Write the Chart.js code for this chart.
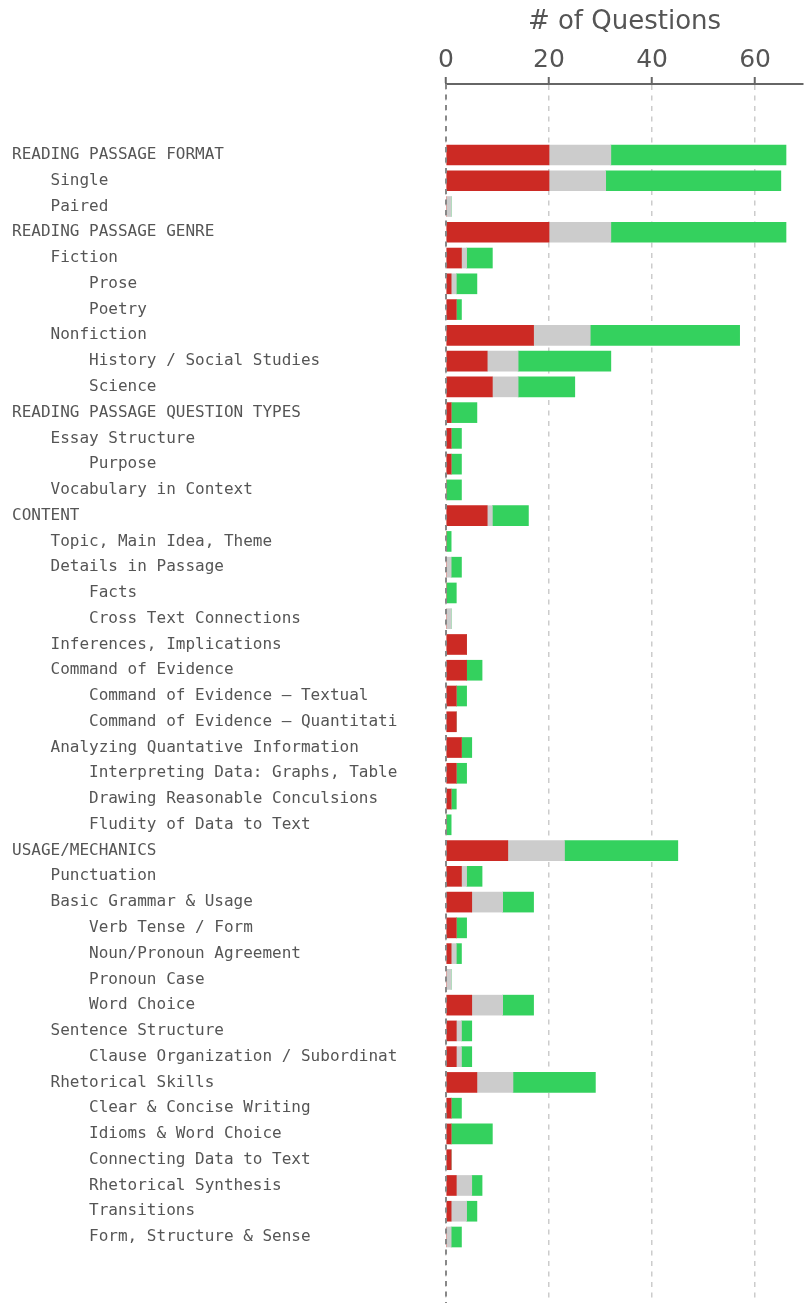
<!DOCTYPE html>
<html>
<head>
<meta charset="utf-8">
<script src="https://cdn.jsdelivr.net/npm/chart.js@4/dist/chart.umd.min.js"></script>
<style>
  html, body { margin: 0; padding: 0; background: #fff; }
  #wrap { width: 811px; height: 1303px; }
</style>
</head>
<body>
<div id="wrap"><canvas id="topicChart"></canvas></div>
<script>
// topic outline, indented with spaces like the original report
const topicLabels = [
  "READING PASSAGE FORMAT",
  "    Single",
  "    Paired",
  "READING PASSAGE GENRE",
  "    Fiction",
  "        Prose",
  "        Poetry",
  "    Nonfiction",
  "        History / Social Studies",
  "        Science",
  "READING PASSAGE QUESTION TYPES",
  "    Essay Structure",
  "        Purpose",
  "    Vocabulary in Context",
  "CONTENT",
  "    Topic, Main Idea, Theme",
  "    Details in Passage",
  "        Facts",
  "        Cross Text Connections",
  "    Inferences, Implications",
  "    Command of Evidence",
  "        Command of Evidence \u2013 Textual",
  "        Command of Evidence \u2013 Quantitati",
  "    Analyzing Quantative Information",
  "        Interpreting Data: Graphs, Table",
  "        Drawing Reasonable Conculsions",
  "        Fludity of Data to Text",
  "USAGE/MECHANICS",
  "    Punctuation",
  "    Basic Grammar & Usage",
  "        Verb Tense / Form",
  "        Noun/Pronoun Agreement",
  "        Pronoun Case",
  "        Word Choice",
  "    Sentence Structure",
  "        Clause Organization / Subordinat",
  "    Rhetorical Skills",
  "        Clear & Concise Writing",
  "        Idioms & Word Choice",
  "        Connecting Data to Text",
  "        Rhetorical Synthesis",
  "        Transitions",
  "        Form, Structure & Sense"
];

const incorrect = [20, 20, 0, 20, 3, 1, 2, 17, 8, 9, 1, 1, 1, 0, 8, 0, 0, 0, 0, 4, 4, 2, 2, 3, 2, 1, 0,
  12, 3, 5, 2, 1, 0, 5, 2, 2, 6, 1, 1, 1, 2, 1, 0];
const skipped = [12, 11, 1, 12, 1, 1, 0, 11, 6, 5, 0, 0, 0, 0, 1, 0, 1, 0, 1, 0, 0, 0, 0, 0, 0, 0, 0,
  11, 1, 6, 0, 1, 1, 6, 1, 1, 7, 0, 0, 0, 3, 3, 1];
const correct = [34, 34, 0, 34, 5, 4, 1, 29, 18, 11, 5, 2, 2, 3, 7, 1, 2, 2, 0, 0, 3, 2, 0, 2, 2, 1, 1,
  22, 3, 6, 2, 1, 0, 6, 2, 2, 16, 2, 8, 0, 2, 2, 2];

const xTicks = [0, 20, 40, 60];

const textColor = "#555555";

//turns a value list into {x, y} points, y being the row index
function toPoints(values) {
  return values.map((v, i) => ({ x: v, y: i }));
}

// dashed line at zero, drawn over the bars
const zeroLine = {
  id: "zeroLine",
  afterDatasetsDraw(chart) {
    const { ctx, chartArea, scales } = chart;
    const px = scales.x.getPixelForValue(0);
    ctx.save();
    ctx.strokeStyle = "#888888";
    ctx.lineWidth = 2;
    ctx.setLineDash([5, 5.5]);
    ctx.beginPath();
    ctx.moveTo(px, chartArea.top);
    ctx.lineTo(px, chartArea.bottom);
    ctx.stroke();
    ctx.restore();
  },
};

const ctx = document.getElementById("topicChart").getContext("2d");

new Chart(ctx, {
  type: "bar",
  data: {
    datasets: [
      { label: "Incorrect", data: toPoints(incorrect), backgroundColor: "#cc2a24" },
      { label: "Skipped", data: toPoints(skipped), backgroundColor: "#cccccc" },
      { label: "Correct", data: toPoints(correct), backgroundColor: "#34d15e" },
    ],
  },
  plugins: [zeroLine],
  options: {
    indexAxis: "y",
    responsive: true,
    maintainAspectRatio: false,
    animation: false,
    layout: { padding: { left: 12, right: 8, top: 0, bottom: 0 } },
    datasets: {
      bar: { barThickness: 20, borderWidth: 0 },
    },
    plugins: {
      legend: { display: false },
      tooltip: { enabled: false },
    },
    scales: {
      x: {
        type: "linear",
        position: "top",
        stacked: true,
        min: 0,
        max: 69.3,
        afterFit: (scale) => { scale.height = 84; },
        afterBuildTicks: (scale) => { scale.ticks = xTicks.map((v) => ({ value: v })); },
        title: {
          display: true,
          text: "# of Questions",
          color: textColor,
          font: { family: "DejaVu Sans", size: 26 },
          padding: { top: 7, bottom: 0 },
        },
        ticks: {
          color: textColor,
          font: { family: "DejaVu Sans", size: 25 },
          padding: 2,
        },
        grid: {
          color: "#cccccc",
          lineWidth: 1.5,
          tickLength: 7,
          tickColor: "#666666",
          tickWidth: 2,
          tickBorderDash: [],
        },
        border: { display: true, color: "#666666", width: 2, dash: [5, 5.5] },
      },
      y: {
        type: "linear",
        reverse: true,
        stacked: true,
        offset: false,
        bounds: "data",
        min: -2.756,
        max: 44.562,
        afterFit: (scale) => {
          scale.width = 434;
          scale.paddingTop = 0;
          scale.paddingBottom = 0;
        },
        afterBuildTicks: (scale) => { scale.ticks = topicLabels.map((_, i) => ({ value: i })); },
        ticks: {
          autoSkip: false,
          crossAlign: "far",
          padding: 0,
          color: textColor,
          font: { family: "DejaVu Sans Mono", size: 16 },
          callback: (v) => topicLabels[v],
        },
        grid: { display: false },
        border: { display: false },
      },
    },
  },
});
</script>
</body>
</html>
